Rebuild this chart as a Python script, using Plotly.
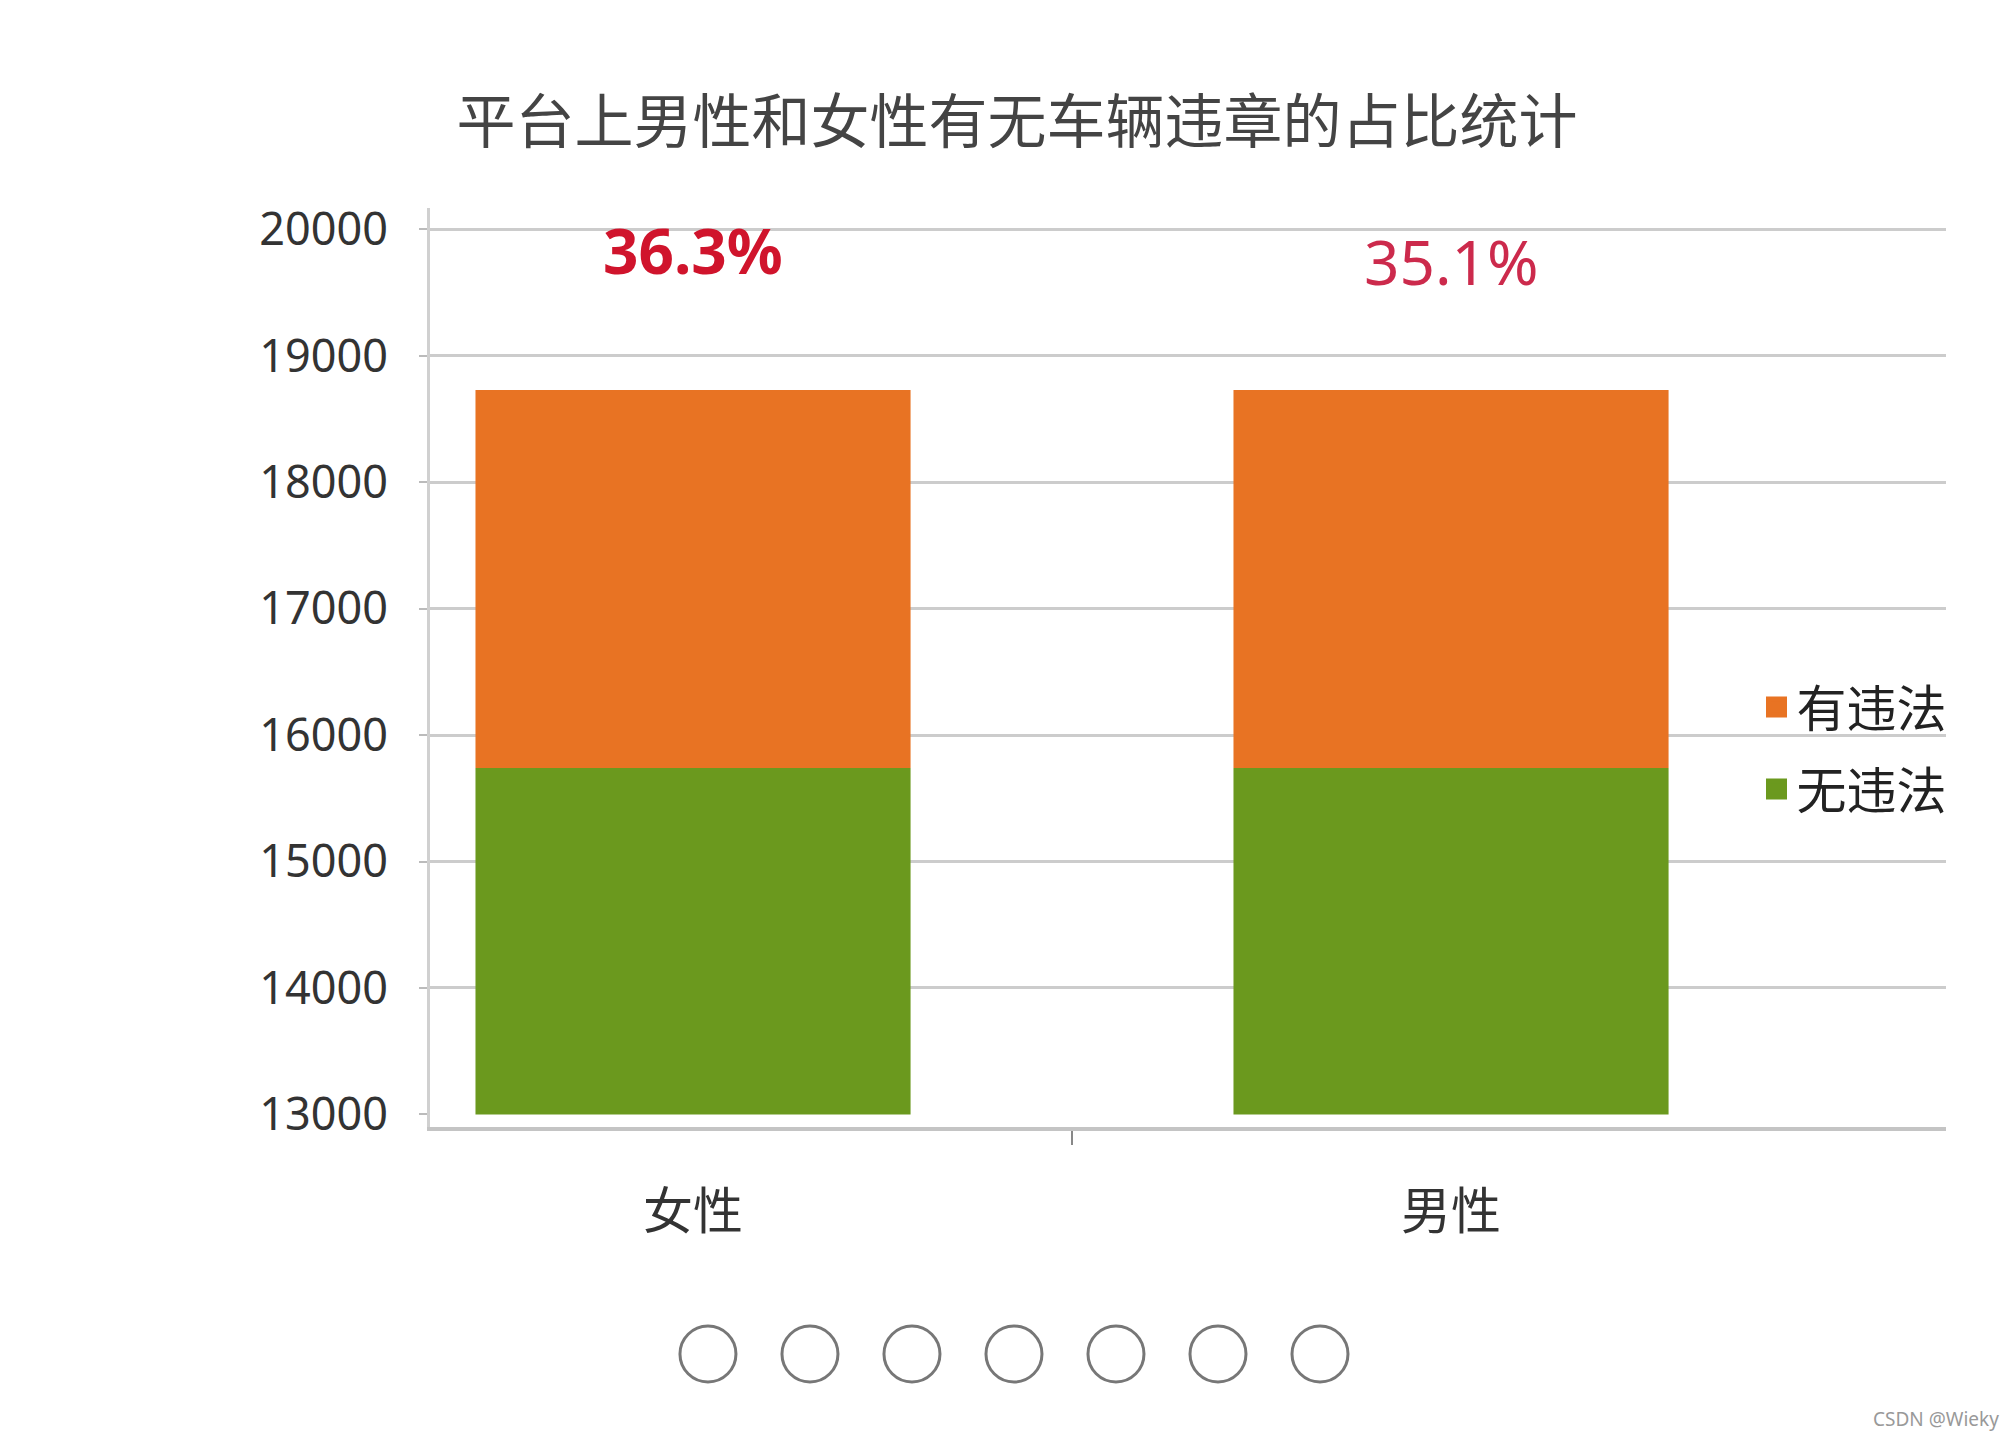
import plotly.graph_objects as go

# ---- data ----
categories = ["女性", "男性"]
no_violation_top = [15740, 15740]     # 无违法 (top of green segment)
violation_amount = [2990, 2990]       # 有违法 (orange segment stacked on top)
axis_base = 13000
pct_labels = ["36.3%", "35.1%"]
pct_label_y = [19838, 19750]
y_ticks = [13000, 14000, 15000, 16000, 17000, 18000, 19000, 20000]
pager_dots = [1, 2, 3, 4, 5, 6, 7]

x_pos = list(range(len(categories)))
green_len = [v - axis_base for v in no_violation_top]

CJK = "Noto Sans CJK SC"
ORANGE = "#E87323"
GREEN = "#6B991E"

fig = go.Figure()

fig.add_trace(go.Bar(
    x=x_pos, y=green_len, base=[axis_base] * len(x_pos), width=0.574,
    name="无违法", marker=dict(color=GREEN, line=dict(width=0)),
    showlegend=False, xaxis="x", yaxis="y",
))
fig.add_trace(go.Bar(
    x=x_pos, y=violation_amount, base=no_violation_top, width=0.574,
    name="有违法", marker=dict(color=ORANGE, line=dict(width=0)),
    showlegend=False, xaxis="x", yaxis="y",
))
# legend entries (square swatches)
for nm, col in [("有违法", ORANGE), ("无违法", GREEN)]:
    fig.add_trace(go.Scatter(
        x=[None], y=[None], mode="markers", name=nm, legendgroup=nm,
        marker=dict(symbol="square", size=16, color=col, line=dict(width=5, color=col)),
        xaxis="x", yaxis="y",
    ))
# invisible helper trace so the gridline axis exists
fig.add_trace(go.Scatter(x=[x_pos[0]], y=[y_ticks[1]], mode="markers",
                         marker=dict(opacity=0), showlegend=False,
                         hoverinfo="skip", xaxis="x", yaxis="y2"))
# pager dots
fig.add_trace(go.Scatter(
    x=pager_dots, y=[0.5] * len(pager_dots), mode="markers",
    marker=dict(symbol="circle-open", size=56, color="#777777",
                line=dict(width=3, color="#777777")),
    showlegend=False, hoverinfo="skip", xaxis="x3", yaxis="y3",
))

for xi, txt, yy, bold, col, sz in zip(x_pos, pct_labels, pct_label_y,
                                       [True, False], ["#D0142C", "#CC2A4C"], [62, 62]):
    fig.add_annotation(
        x=xi, y=yy, xref="x", yref="y",
        text=f"<b>{txt}</b>" if bold else txt, showarrow=False,
        font=dict(family="Noto Sans", size=sz, color=col),
        xanchor="center", yanchor="middle",
    )

fig.add_annotation(
    x=1.036, y=-0.016, xref="paper", yref="paper", text="CSDN @Wieky",
    showarrow=False, xanchor="right", yanchor="middle",
    font=dict(family="Noto Sans", size=19, color="#999999"),
)

fig.update_layout(
    width=2014, height=1440,
    paper_bgcolor="white", plot_bgcolor="white",
    margin=dict(l=430, r=68, t=208, b=40),
    barmode="overlay",
    title=dict(text="平台上男性和女性有无车辆违章的占比统计", x=0.505, y=0.915,
               xanchor="center", yanchor="middle",
               font=dict(family=CJK, size=59, color="#444444")),
    xaxis=dict(
        domain=[0, 1], range=[-0.347, 1.653], tickvals=x_pos, ticktext=categories,
        showgrid=False, zeroline=False, showline=True, linecolor="#C4C4C4",
        linewidth=4, ticks="", ticklabelstandoff=38,
        tickfont=dict(family=CJK, size=50, color="#333333"),
        minor=dict(tickvals=[0.5], ticks="outside", ticklen=14,
                   tickcolor="#888888", tickwidth=2),
        anchor="y",
    ),
    yaxis=dict(
        domain=[0.229, 1], range=[12900, 20170], tickvals=y_ticks, tickformat="d",
        showgrid=False, zeroline=False, showline=True, linecolor="#D0D0D0",
        linewidth=3, ticks="outside", ticklen=8, tickcolor="#BBBBBB", tickwidth=2,
        ticklabelstandoff=22,
        tickfont=dict(family="Noto Sans", size=45, color="#333333"),
        anchor="x",
    ),
    yaxis2=dict(
        overlaying="y", matches="y", tickvals=y_ticks[1:], showgrid=True,
        gridcolor="#CCCCCC", gridwidth=3, showticklabels=False, ticks="",
        showline=False, zeroline=False, side="left",
    ),
    xaxis3=dict(domain=[0, 1], range=[-1.725, 13.137], visible=False, anchor="y3"),
    yaxis3=dict(domain=[0, 0.0772], range=[0, 1], visible=False, anchor="x3"),
    legend=dict(
        x=0.875, y=0.614, xanchor="left", yanchor="top",
        traceorder="grouped", tracegroupgap=14, itemsizing="trace",
        bgcolor="rgba(0,0,0,0)", itemwidth=30,
        font=dict(family=CJK, size=50, color="#222222"),
    ),
    showlegend=True,
)

fig.write_html("out.html", config={"displayModeBar": False},
               post_script="document.body.style.margin='0px';")
